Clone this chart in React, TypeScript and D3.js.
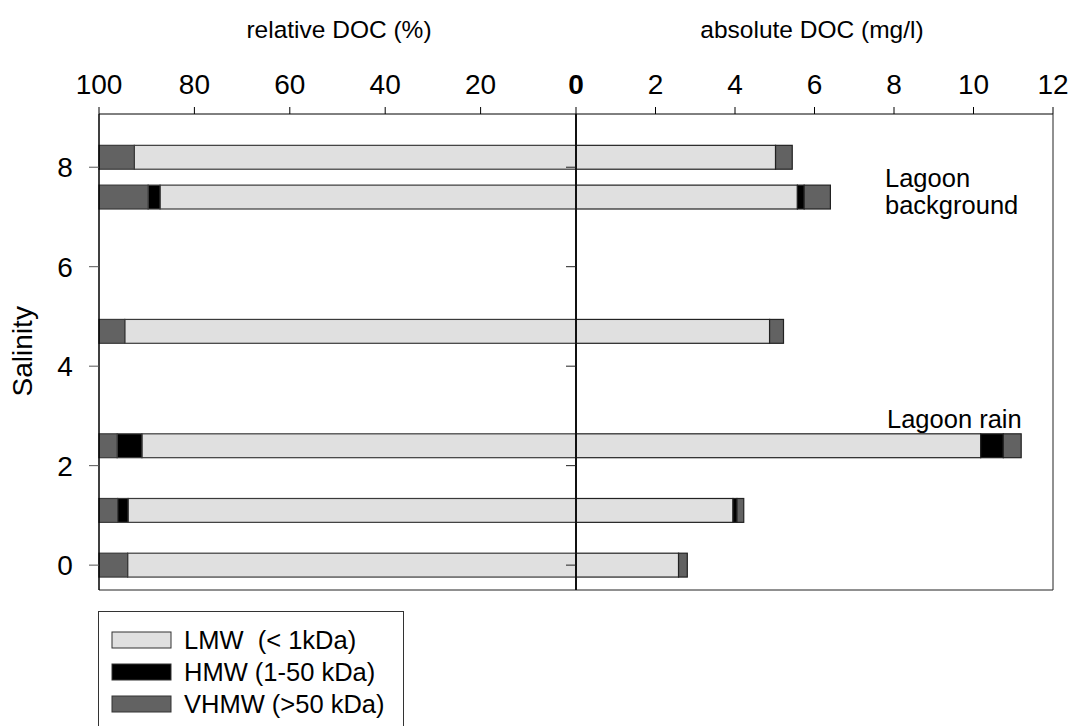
import { useEffect, useRef } from 'react'
import * as d3 from 'd3'

// salinity of each sample (bar centre on the y axis)
const salinity = [8.2, 7.4, 4.7, 2.4, 1.1, 0]

// relative DOC (%)
const relLMW = [92.6, 87.2, 94.6, 91.0, 93.9, 94.0]
const relHMW = [0, 2.5, 0, 5.2, 2.2, 0]
const relVHMW = [7.4, 10.3, 5.4, 3.8, 3.9, 6.0]

// absolute DOC (mg/l)
const absLMW = [5.02, 5.57, 4.87, 10.18, 3.95, 2.58]
const absHMW = [0, 0.17, 0, 0.57, 0.1, 0]
const absVHMW = [0.42, 0.66, 0.35, 0.45, 0.17, 0.22]

const relTicks = [100, 80, 60, 40, 20, 0]
const absTicks = [2, 4, 6, 8, 10, 12]
const salTicks = [0, 2, 4, 6, 8]

const fractions = ['LMW  (< 1kDa)', 'HMW (1-50 kDa)', 'VHMW (>50 kDa)']
const colors = ['#e0e0e0', '#000000', '#626262']

export default function App() {
  const svgRef = useRef<SVGSVGElement | null>(null)

  useEffect(() => {
    if (!svgRef.current) return
    const svg = d3.select(svgRef.current)
    svg.selectAll('*').remove()

    const font = 'Arial, Liberation Sans, sans-serif'
    const top = 114, bottom = 590, left = 99, mid = 576, right = 1053

    const xRel = d3.scaleLinear().domain([100, 0]).range([left, mid])
    const xAbs = d3.scaleLinear().domain([0, 12]).range([mid, right])
    const y = d3.scaleLinear().domain([-0.5, 9.07]).range([bottom, top])
    const barH = y(0) - y(0.48)

    const g = svg.append('g')

    // bars
    salinity.forEach((s, i) => {
      const yc = y(s)
      // relative: stacked from 0 leftwards
      const relParts = [relLMW[i], relHMW[i], relVHMW[i]]
      let acc = 0
      relParts.forEach((v, k) => {
        if (v <= 0) return
        g.append('rect')
          .attr('x', xRel(acc + v))
          .attr('y', yc - barH / 2)
          .attr('width', xRel(acc) - xRel(acc + v))
          .attr('height', barH)
          .attr('fill', colors[k])
          .attr('stroke', '#3a3a3a')
          .attr('stroke-width', 1.2)
        acc += v
      })
      // absolute: stacked from 0 rightwards
      const absParts = [absLMW[i], absHMW[i], absVHMW[i]]
      acc = 0
      absParts.forEach((v, k) => {
        if (v <= 0) return
        g.append('rect')
          .attr('x', xAbs(acc))
          .attr('y', yc - barH / 2)
          .attr('width', xAbs(acc + v) - xAbs(acc))
          .attr('height', barH)
          .attr('fill', colors[k])
          .attr('stroke', '#222')
          .attr('stroke-width', 1.2)
        acc += v
      })
    })

    // frame
    g.append('line').attr('x1', left).attr('x2', right).attr('y1', top).attr('y2', top)
      .attr('stroke', '#000')
    g.append('line').attr('x1', left).attr('x2', right).attr('y1', bottom).attr('y2', bottom)
      .attr('stroke', '#222')
    g.append('line').attr('x1', left).attr('x2', left).attr('y1', top).attr('y2', bottom)
      .attr('stroke', '#000').attr('stroke-width', 1.5)
    g.append('line').attr('x1', right).attr('x2', right).attr('y1', top).attr('y2', bottom)
      .attr('stroke', '#222')
    g.append('line').attr('x1', mid).attr('x2', mid).attr('y1', top).attr('y2', bottom)
      .attr('stroke', '#111').attr('stroke-width', 2)

    // top ticks
    relTicks.forEach(t => {
      g.append('line').attr('x1', xRel(t)).attr('x2', xRel(t)).attr('y1', top - 7).attr('y2', top)
        .attr('stroke', '#000')
      g.append('text')
        .attr('x', xRel(t)).attr('y', top - 20)
        .attr('text-anchor', 'middle')
        .attr('font-family', font).attr('font-size', 28)
        .attr('font-weight', t === 0 ? 'bold' : 'normal')
        .text(t)
    })
    absTicks.forEach(t => {
      g.append('line').attr('x1', xAbs(t)).attr('x2', xAbs(t)).attr('y1', top - 7).attr('y2', top)
        .attr('stroke', '#000')
      g.append('text')
        .attr('x', xAbs(t)).attr('y', top - 20)
        .attr('text-anchor', 'middle')
        .attr('font-family', font).attr('font-size', 28)
        .text(t)
    })

    // salinity ticks (left axis and middle axis)
    salTicks.forEach(t => {
      g.append('line').attr('x1', left - 10).attr('x2', left).attr('y1', y(t)).attr('y2', y(t))
        .attr('stroke', '#555')
      g.append('line').attr('x1', mid - 10).attr('x2', mid).attr('y1', y(t)).attr('y2', y(t))
        .attr('stroke', '#222')
      g.append('text')
        .attr('x', 65).attr('y', y(t) + 10)
        .attr('text-anchor', 'middle')
        .attr('font-family', font).attr('font-size', 28)
        .text(t)
    })

    // axis titles
    g.append('text').attr('x', 339).attr('y', 38).attr('text-anchor', 'middle')
      .attr('font-family', font).attr('font-size', 24.5).text('relative DOC (%)')
    g.append('text').attr('x', 812).attr('y', 38).attr('text-anchor', 'middle')
      .attr('font-family', font).attr('font-size', 24.5).text('absolute DOC (mg/l)')
    g.append('text')
      .attr('transform', `translate(32,${y(4.3)}) rotate(-90)`)
      .attr('text-anchor', 'middle')
      .attr('font-family', font).attr('font-size', 28).text('Salinity')

    // annotations
    g.append('text').attr('x', 885).attr('y', 187)
      .attr('font-family', font).attr('font-size', 25.5).text('Lagoon')
    g.append('text').attr('x', 885).attr('y', 214)
      .attr('font-family', font).attr('font-size', 25.5).text('background')
    g.append('text').attr('x', 887).attr('y', 428)
      .attr('font-family', font).attr('font-size', 25.5).text('Lagoon rain')

    // legend
    const lg = g.append('g')
    lg.append('rect').attr('x', 98.5).attr('y', 611.5).attr('width', 305).attr('height', 140)
      .attr('fill', '#fff').attr('stroke', '#333')
    fractions.forEach((name, k) => {
      const yy = 632 + k * 32
      lg.append('rect').attr('x', 112).attr('y', yy).attr('width', 59).attr('height', 16)
        .attr('fill', colors[k]).attr('stroke', '#333')
      lg.append('text').attr('x', 184).attr('y', yy + 17)
        .attr('font-family', font).attr('font-size', 25.5)
        .style('white-space', 'pre')
        .text(name)
    })
  }, [])

  return (
    <svg ref={svgRef} width={1072} height={726}
      style={{ position: 'absolute', left: 0, top: 0, background: '#fff' }} />
  )
}
